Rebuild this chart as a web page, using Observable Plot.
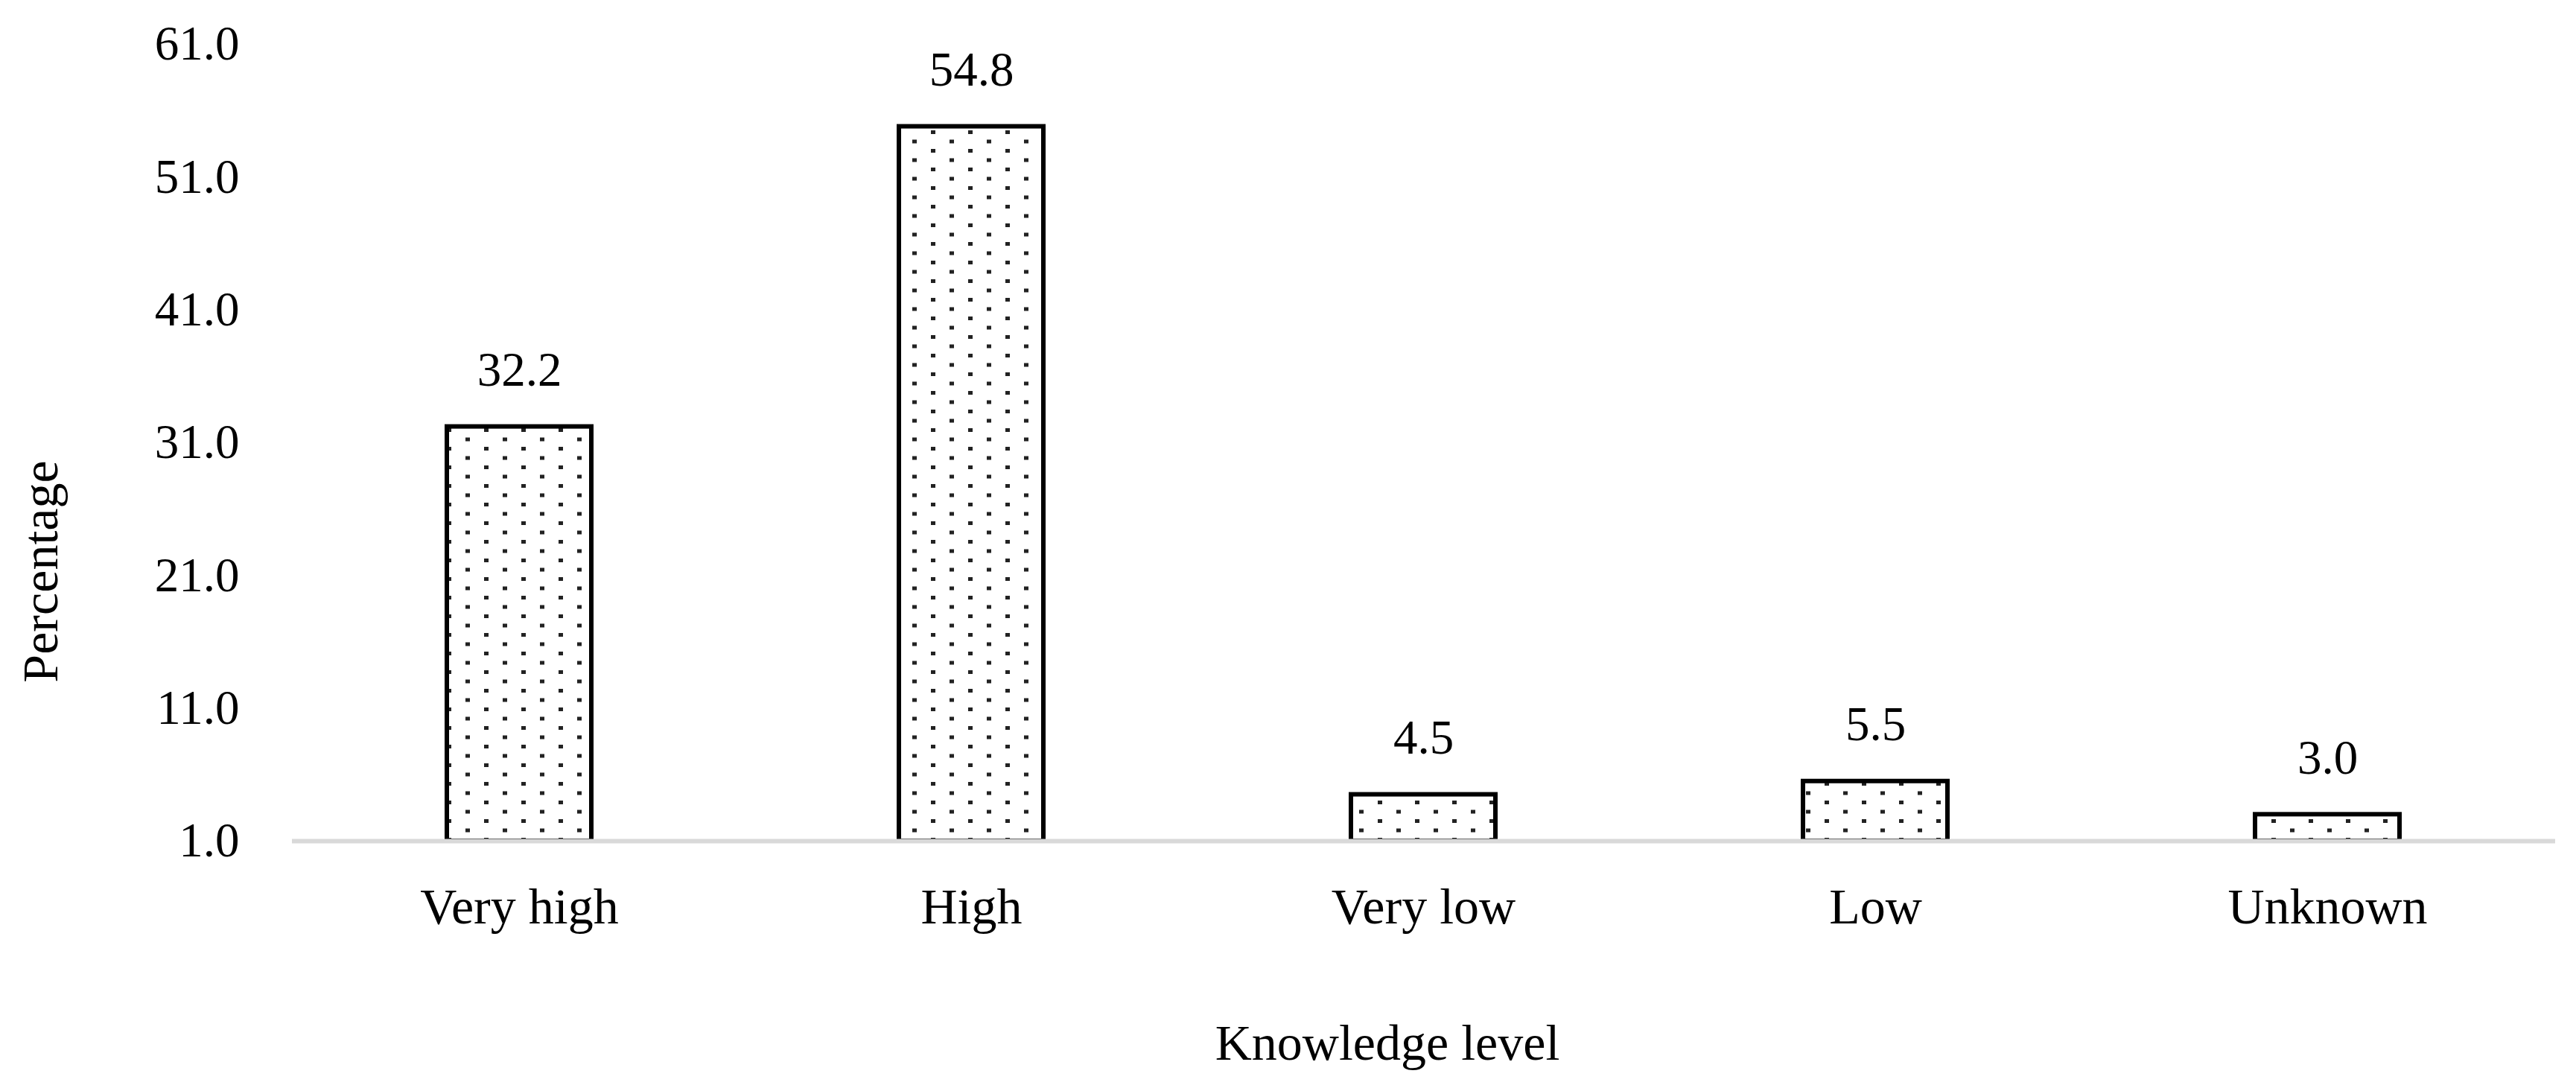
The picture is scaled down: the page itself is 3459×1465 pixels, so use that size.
<!DOCTYPE html>
<html>
<head>
<meta charset="utf-8">
<script src="https://cdn.jsdelivr.net/npm/d3@7"></script>
<script src="https://cdn.jsdelivr.net/npm/@observablehq/plot@0.6"></script>
<style>
  body { margin: 0; background: #fff; }
</style>
</head>
<body>
<div id="vis"></div>
<script>
const levels = ["Very high", "High", "Very low", "Low", "Unknown"]
const percents = [32.2, 54.8, 4.5, 5.5, 3.0]
const yTicks = [1, 11, 21, 31, 41, 51, 61]

const data = levels.map((level, i) => ({level, pct: percents[i]}))

// dotted fill like the excel pattern
const dots = () => {
  const defs = d3.create("svg:defs")
  const p = defs.append("pattern")
    .attr("id", "dots")
    .attr("patternUnits", "userSpaceOnUse")
    .attr("width", 50)
    .attr("height", 25)
  p.append("rect").attr("width", 50).attr("height", 25).attr("fill", "#fff")
  p.append("rect").attr("x", 0).attr("y", 0).attr("width", 6).attr("height", 5).attr("fill", "#222")
  p.append("rect").attr("x", 25).attr("y", 12.5).attr("width", 6).attr("height", 5).attr("fill", "#222")
  return defs.node()
}

let chart = Plot.plot({
  width: 3459,
  height: 1465,
  marginLeft: 392,
  marginRight: 28,
  marginTop: 59,
  marginBottom: 336,
  x: {domain: levels, paddingInner: 0.68, paddingOuter: 0.34, label: null},
  y: {domain: [1, 61], label: null},
  marks: [
    dots,
    Plot.barY(data, {
      x: "level",
      y1: 1,
      y2: "pct",
      fill: "url(#dots)",
      stroke: "#000",
      strokeWidth: 6
    }),
    Plot.ruleY([1], {stroke: "#d9d9d9", strokeWidth: 6}),
    Plot.axisY({ticks: yTicks, tickFormat: d3.format(".1f"), tickSize: 0, tickPadding: 71, label: null}),
    Plot.axisX({tickSize: 0, tickPadding: 62, label: null, fontSize: 68}),
    Plot.text(data, {
      x: "level",
      y: "pct",
      text: d => d.pct.toFixed(1),
      dy: -76,
      lineAnchor: "middle",
      fill: "#000"
    }),
    Plot.text(["Knowledge level"], {frameAnchor: "bottom", dx: -49, dy: 272, textAnchor: "middle", lineAnchor: "middle", fill: "#000", fontSize: 68}),
    Plot.text(["Percentage"], {frameAnchor: "left", dx: -337, dy: 173, rotate: -90, textAnchor: "middle", lineAnchor: "middle", fill: "#000", fontSize: 68})
  ],
  style: {
    fontSize: "65px",
    fontFamily: "'Liberation Serif', serif",
    color: "#000",
    background: "#fff"
  }
})
d3.select('#vis').append(() => chart)
</script>
</body>
</html>
